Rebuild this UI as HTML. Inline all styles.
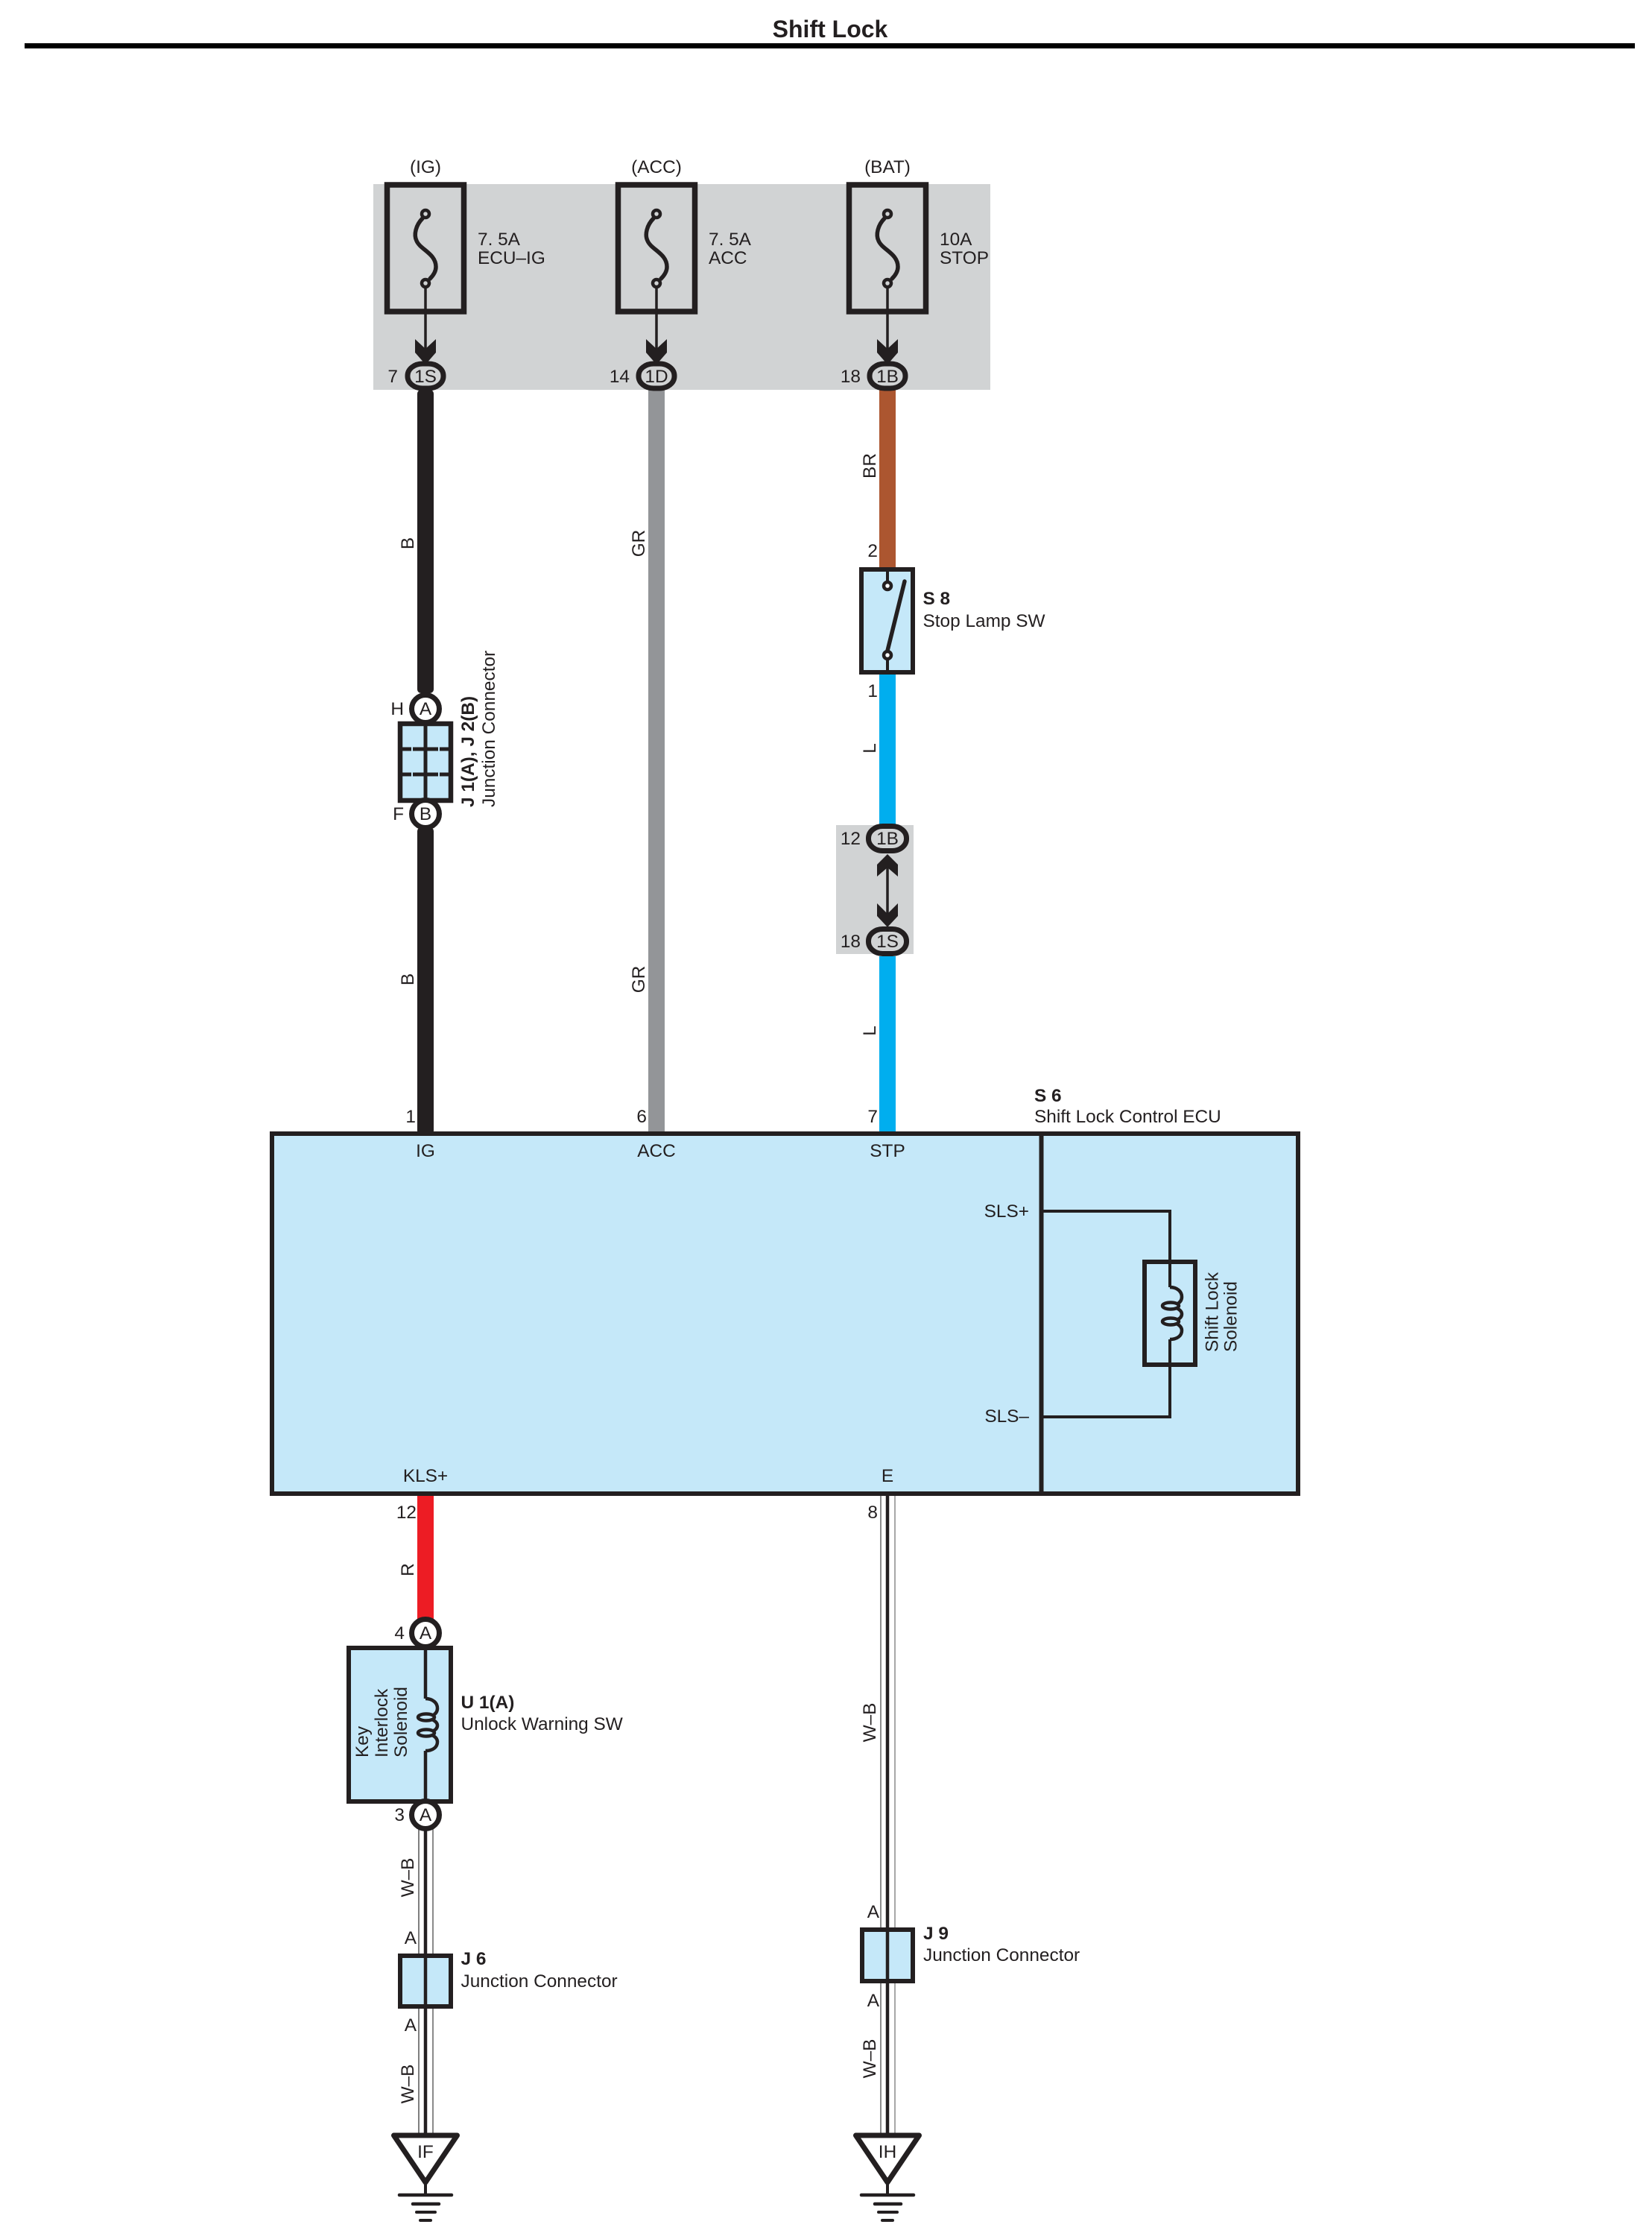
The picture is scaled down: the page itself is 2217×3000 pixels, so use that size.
<!DOCTYPE html>
<html>
<head>
<meta charset="utf-8">
<title>Shift Lock</title>
<style>
html,body{margin:0;padding:0;background:#fff;}
svg{display:block;}
text{font-family:"Liberation Sans",sans-serif;font-size:24.400px;fill:#231f20;}
.b{font-weight:bold;}
.m{text-anchor:middle;}
.e{text-anchor:end;}
</style>
</head>
<body>
<svg width="2217" height="3000" viewBox="0 0 2217 3000" xmlns="http://www.w3.org/2000/svg">
<defs>
  <g id="fuse" fill="none" stroke="#231f20">
    <rect x="-51.500" y="248" width="103" height="170" stroke-width="7.500"/>
    <path d="M-4 293 C-13 302,-16 315,-12 323 C-7 335,14 340,14 358 C14 365,10 370,6 374" stroke-width="5.500" stroke-linecap="round"/>
    <circle cx="0" cy="287" r="5" stroke-width="4.500"/>
    <circle cx="0" cy="380" r="5" stroke-width="4.500"/>
    <line x1="0" y1="386" x2="0" y2="470" stroke-width="3.500"/>
    <polygon points="-14,455 0,468 14,455 14,473 0,489 -14,473" fill="#231f20" stroke="none"/>
  </g>
  <g id="coil" fill="none" stroke="#231f20" stroke-width="4.500">
    <path d="M0 0 C10 0,16 6,16 13 C16 18,13 21,9 23"/>
    <path d="M9 28 C15 31,16 34,16 36 C16 39,14 42,9 44"/>
    <path d="M9 49 C13 51,16 54,16 58 C16 65,10 70,0 70"/>
    <ellipse cx="1" cy="25" rx="11" ry="4.500"/>
    <ellipse cx="1" cy="46" rx="11" ry="4.500"/>
  </g>
  <g id="ground" fill="none" stroke="#231f20" stroke-linecap="round">
    <path d="M0 2929 L0 2945" stroke-width="4"/>
    <polygon points="-42.500,2865 42.500,2865 0,2928" stroke-width="7" stroke-linejoin="round" fill="#fff"/>
    <line x1="-35" y1="2945" x2="35" y2="2945" stroke-width="4.500"/>
    <line x1="-17" y1="2957" x2="18" y2="2957" stroke-width="4.500"/>
    <line x1="-12" y1="2968" x2="13" y2="2968" stroke-width="4"/>
    <line x1="-7" y1="2979" x2="7" y2="2979" stroke-width="4"/>
  </g>
</defs>

<!-- title -->
<text x="1114" y="50" class="b m" style="font-size:32px" fill="#000">Shift Lock</text>
<rect x="33" y="58" width="2161" height="7" fill="#000"/>

<!-- grey backgrounds -->
<rect x="501" y="247" width="828" height="276" fill="#d1d3d4"/>
<rect x="1122" y="1107" width="104" height="173" fill="#d1d3d4"/>

<!-- wires -->
<rect x="560" y="523" width="22" height="407" rx="5" fill="#231f20"/>
<rect x="560" y="1110" width="22" height="412" rx="5" fill="#231f20"/>
<rect x="870" y="523" width="22" height="999" fill="#939598"/>
<rect x="1180" y="523" width="22" height="240" fill="#ac5630"/>
<rect x="1180" y="903" width="22" height="204" fill="#00aeef"/>
<rect x="1180" y="1283" width="22" height="239" fill="#00aeef"/>
<rect x="560" y="2005" width="22" height="170" fill="#ed1c24"/>

<!-- W-B wires -->
<g fill="none">
  <line x1="562" y1="2450" x2="562" y2="2864" stroke="#555" stroke-width="1.500"/>
  <line x1="581" y1="2450" x2="581" y2="2864" stroke="#8a8a8a" stroke-width="2"/>
  <line x1="571" y1="2450" x2="571" y2="2864" stroke="#231f20" stroke-width="4.500"/>
  <line x1="1182" y1="2005" x2="1182" y2="2864" stroke="#666" stroke-width="1.500"/>
  <line x1="1201" y1="2005" x2="1201" y2="2864" stroke="#8a8a8a" stroke-width="1.500"/>
  <line x1="1191" y1="2005" x2="1191" y2="2864" stroke="#231f20" stroke-width="4.500"/>
</g>

<!-- fuses -->
<use href="#fuse" x="571"/>
<use href="#fuse" x="881"/>
<use href="#fuse" x="1191"/>
<text x="571" y="232" class="m">(IG)</text>
<text x="881" y="232" class="m">(ACC)</text>
<text x="1191" y="232" class="m">(BAT)</text>
<text x="641" y="329">7. 5A</text>
<text x="641" y="354">ECU–IG</text>
<text x="951" y="329">7. 5A</text>
<text x="951" y="354">ACC</text>
<text x="1261" y="329">10A</text>
<text x="1261" y="354">STOP</text>

<!-- top connectors -->
<g fill="#d1d3d4" stroke="#231f20" stroke-width="7">
  <rect x="547" y="488" width="48" height="33" rx="20" ry="16"/>
  <rect x="857" y="488" width="48" height="33" rx="20" ry="16"/>
  <rect x="1167" y="488" width="48" height="33" rx="20" ry="16"/>
</g>
<text x="571" y="513" class="m">1S</text>
<text x="881" y="513" class="m">1D</text>
<text x="1191" y="513" class="m">1B</text>
<text x="534" y="513" class="e">7</text>
<text x="845" y="513" class="e">14</text>
<text x="1155" y="513" class="e">18</text>

<!-- J1 / J2 -->
<rect x="537" y="971" width="68" height="103" fill="#c5e8f9" stroke="#231f20" stroke-width="6.500"/>
<line x1="571" y1="971" x2="571" y2="1074" stroke="#231f20" stroke-width="5"/>
<g stroke="#231f20" stroke-width="5" stroke-dasharray="12 2 34 2 16 0">
  <line x1="540" y1="1005" x2="602" y2="1005"/>
  <line x1="540" y1="1039" x2="602" y2="1039"/>
</g>
<circle cx="571" cy="951" r="18.500" fill="#fff" stroke="#231f20" stroke-width="7"/>
<circle cx="571" cy="1092" r="18.500" fill="#fff" stroke="#231f20" stroke-width="7"/>
<text x="571" y="959" class="m">A</text>
<text x="571" y="1100" class="m">B</text>
<text x="542" y="959" class="e">H</text>
<text x="542" y="1100" class="e">F</text>
<text transform="translate(636 1083) rotate(-90)" class="b">J 1(A), J 2(B)</text>
<text transform="translate(664 1083) rotate(-90)">Junction Connector</text>

<!-- S8 -->
<rect x="1156" y="764" width="69" height="138" fill="#c5e8f9" stroke="#231f20" stroke-width="6"/>
<line x1="1191" y1="764" x2="1191" y2="780" stroke="#231f20" stroke-width="4"/>
<line x1="1191" y1="885" x2="1191" y2="902" stroke="#231f20" stroke-width="4"/>
<circle cx="1191" cy="786" r="5" fill="#fff" stroke="#231f20" stroke-width="4.500"/>
<circle cx="1191" cy="879" r="5" fill="#fff" stroke="#231f20" stroke-width="4.500"/>
<line x1="1191" y1="873" x2="1214" y2="780" stroke="#231f20" stroke-width="5.500" stroke-linecap="round"/>
<text x="1238.500" y="811" class="b">S 8</text>
<text x="1238.500" y="841">Stop Lamp SW</text>
<text x="1178" y="747" class="e">2</text>
<text x="1178" y="935" class="e">1</text>

<!-- inline connector pair -->
<line x1="1191" y1="1150" x2="1191" y2="1240" stroke="#231f20" stroke-width="3.500"/>
<polygon points="1177,1176 1191,1164 1205,1176 1205,1160 1191,1146 1177,1160" fill="#231f20"/>
<polygon points="1177,1212 1191,1226 1205,1212 1205,1229 1191,1244 1177,1229" fill="#231f20"/>
<g fill="#d1d3d4" stroke="#231f20" stroke-width="7">
  <rect x="1165.500" y="1108.500" width="51" height="33" rx="19" ry="16"/>
  <rect x="1165.500" y="1246.500" width="51" height="33" rx="19" ry="16"/>
</g>
<text x="1191" y="1133" class="m">1B</text>
<text x="1191" y="1271" class="m">1S</text>
<text x="1155" y="1133" class="e">12</text>
<text x="1155" y="1271" class="e">18</text>

<!-- ECU -->
<rect x="365" y="1521" width="1377" height="483" fill="#c5e8f9" stroke="#231f20" stroke-width="6"/>
<line x1="1397.500" y1="1521" x2="1397.500" y2="2004" stroke="#231f20" stroke-width="6"/>
<polyline points="1400,1625 1570,1625 1570,1901 1400,1901" fill="none" stroke="#231f20" stroke-width="4"/>
<rect x="1536" y="1693" width="68" height="138" fill="none" stroke="#231f20" stroke-width="6"/>
<rect x="1566" y="1727" width="8" height="70" fill="#c5e8f9"/>
<use href="#coil" x="1570" y="1727"/>
<text x="1388" y="1478" class="b">S 6</text>
<text x="1388" y="1506">Shift Lock Control ECU</text>
<text x="1381" y="1633" class="e">SLS+</text>
<text x="1381" y="1908" class="e">SLS–</text>
<text transform="translate(1634.500 1814) rotate(-90)">Shift Lock</text>
<text transform="translate(1659.500 1814) rotate(-90)">Solenoid</text>
<text x="571" y="1552" class="m">IG</text>
<text x="881" y="1552" class="m">ACC</text>
<text x="1191" y="1552" class="m">STP</text>
<text x="571" y="1988" class="m">KLS+</text>
<text x="1191" y="1988" class="m">E</text>
<text x="558" y="1506" class="e">1</text>
<text x="868" y="1506" class="e">6</text>
<text x="1178" y="1506" class="e">7</text>
<text x="559" y="2037" class="e">12</text>
<text x="1178" y="2037" class="e">8</text>

<!-- U1 -->
<rect x="468" y="2211" width="137" height="206" fill="#c5e8f9" stroke="#231f20" stroke-width="6"/>
<line x1="571" y1="2211" x2="571" y2="2279" stroke="#231f20" stroke-width="4.500"/>
<line x1="571" y1="2349" x2="571" y2="2417" stroke="#231f20" stroke-width="4.500"/>
<use href="#coil" x="571" y="2279"/>
<circle cx="571" cy="2191" r="18.500" fill="#fff" stroke="#231f20" stroke-width="7"/>
<circle cx="571" cy="2435" r="18.500" fill="#fff" stroke="#231f20" stroke-width="7"/>
<text x="571" y="2199" class="m">A</text>
<text x="571" y="2443" class="m">A</text>
<text x="543" y="2199" class="e">4</text>
<text x="543" y="2443" class="e">3</text>
<text transform="translate(494 2358) rotate(-90)">Key</text>
<text transform="translate(520 2358) rotate(-90)">Interlock</text>
<text transform="translate(546 2358) rotate(-90)">Solenoid</text>
<text x="618.500" y="2292" class="b">U 1(A)</text>
<text x="618.500" y="2321">Unlock Warning SW</text>

<!-- J6 -->
<rect x="537" y="2624" width="68" height="68" fill="#c5e8f9" stroke="#231f20" stroke-width="6"/>
<line x1="571" y1="2624" x2="571" y2="2692" stroke="#231f20" stroke-width="4.500"/>
<text x="559" y="2608" class="e">A</text>
<text x="559" y="2725" class="e">A</text>
<text x="618.500" y="2636" class="b">J 6</text>
<text x="618.500" y="2666">Junction Connector</text>

<!-- J9 -->
<rect x="1157" y="2589" width="68" height="69" fill="#c5e8f9" stroke="#231f20" stroke-width="6"/>
<line x1="1191" y1="2589" x2="1191" y2="2658" stroke="#231f20" stroke-width="4.500"/>
<text x="1180" y="2573" class="e">A</text>
<text x="1180" y="2692" class="e">A</text>
<text x="1239" y="2602" class="b">J 9</text>
<text x="1239" y="2631">Junction Connector</text>

<!-- grounds -->
<use href="#ground" x="571"/>
<use href="#ground" x="1191"/>
<text x="571" y="2895" class="m">IF</text>
<text x="1191" y="2895" class="m">IH</text>

<!-- wire colour labels -->
<text transform="translate(555 729) rotate(-90)" class="m">B</text>
<text transform="translate(555 1314) rotate(-90)" class="m">B</text>
<text transform="translate(865 729) rotate(-90)" class="m">GR</text>
<text transform="translate(865 1314) rotate(-90)" class="m">GR</text>
<text transform="translate(1175 625) rotate(-90)" class="m">BR</text>
<text transform="translate(1175 1004) rotate(-90)" class="m">L</text>
<text transform="translate(1175 1383) rotate(-90)" class="m">L</text>
<text transform="translate(555 2106) rotate(-90)" class="m">R</text>
<text transform="translate(555 2519) rotate(-90)" class="m">W–B</text>
<text transform="translate(555 2796) rotate(-90)" class="m">W–B</text>
<text transform="translate(1175 2311) rotate(-90)" class="m">W–B</text>
<text transform="translate(1175 2762) rotate(-90)" class="m">W–B</text>
</svg>
</body>
</html>
